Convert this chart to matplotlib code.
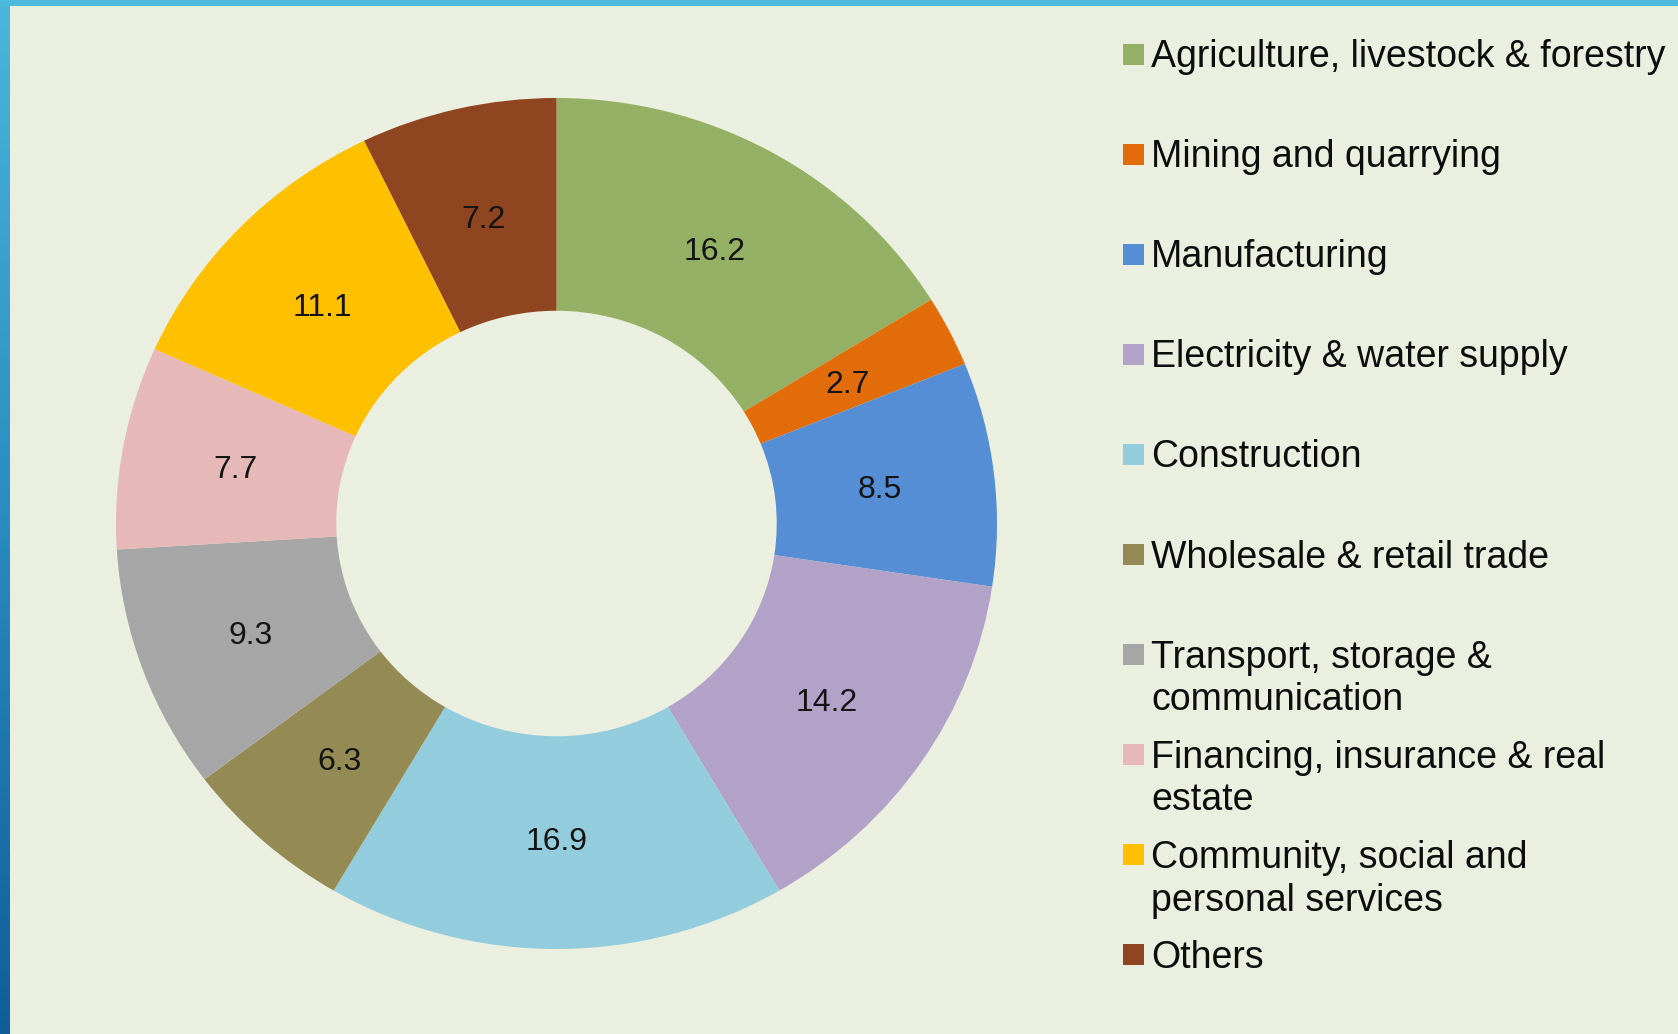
import matplotlib.pyplot as plt
import numpy as np
from matplotlib.patches import Rectangle
from matplotlib.colors import LinearSegmentedColormap

plt.rcParams['font.family'] = ['Liberation Sans', 'DejaVu Sans']

sectors = ["Agriculture, livestock & forestry",
           "Mining and quarrying",
           "Manufacturing",
           "Electricity & water supply",
           "Construction",
           "Wholesale & retail trade",
           "Transport, storage &\ncommunication",
           "Financing, insurance & real\nestate",
           "Community, social and\npersonal services",
           "Others"]
shares = [16.2, 2.7, 8.5, 14.2, 16.9, 6.3, 9.3, 7.7, 11.1, 7.2]
colors = ['#93B064', '#E36C0A', '#558ED5', '#B3A2C7', '#93CDDD',
          '#948A54', '#A6A6A6', '#E6B9B8', '#FFC000', '#8F4520']

W, H = 1678, 1034
bg = '#EBEFDF'
fig = plt.figure(figsize=(W/100, H/100), dpi=100)
fig.patch.set_facecolor(bg)

# blue frame on left and top
fig.patches.append(Rectangle((0, 1-6/H), 1, 6/H, transform=fig.transFigure,
                             facecolor='#4DB9DB', edgecolor='none', zorder=0))
bax = fig.add_axes([0, 0, 10/W, 1])
grad = np.linspace(0, 1, 256).reshape(-1, 1)
cm = LinearSegmentedColormap.from_list('edge', ['#4AB6D9', '#2A8CC0', '#0F5E9A'])
bax.imshow(grad, aspect='auto', cmap=cm, extent=[0, 1, 0, 1], origin='upper')
bax.axis('off')

# donut (slightly wider than tall, as in the source)
ax = fig.add_axes([116/W, 1-949/H, 881/W, 851/H])
ax.set_facecolor(bg)
wedges, texts = ax.pie(shares, colors=colors, startangle=90, counterclock=False,
                       labels=[str(v) for v in shares], labeldistance=0.74,
                       wedgeprops=dict(width=0.5, linewidth=0),
                       textprops=dict(fontsize=23, color='#141414'))
for t in texts:
    t.set_ha('center')
    t.set_va('center_baseline')
ax.set_aspect('auto')
ax.set_xlim(-1, 1)
ax.set_ylim(-1, 1)
ax.axis('off')

# legend
fs = 27
for i, (name, c) in enumerate(zip(sectors, colors)):
    yc = 53.5 + 100.1*i
    fig.patches.append(Rectangle((1123/W, 1-(yc+11)/H), 21/W, 21/H,
                                 transform=fig.transFigure, facecolor=c,
                                 edgecolor='none'))
    for j, line in enumerate(name.split("\n")):
        yb = yc + 13.5 + 42.8*j
        fig.text(1151/W, 1-yb/H, line, fontsize=fs, color='#0d0d0d',
                 ha='left', va='baseline')

fig.savefig("out.png", dpi=100, facecolor=bg)
